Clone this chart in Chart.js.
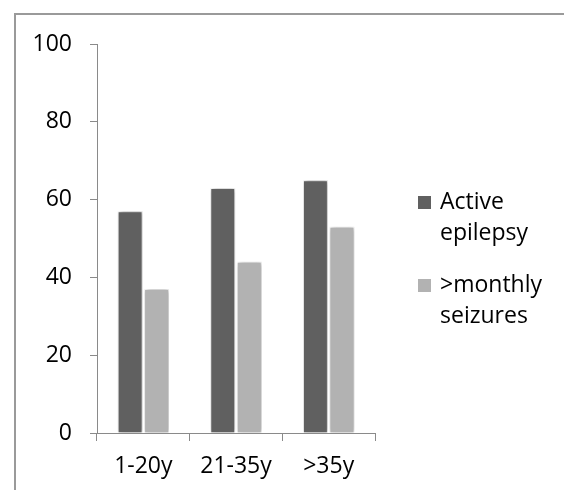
<!DOCTYPE html>
<html>
<head>
<meta charset="utf-8">
<script src="https://cdn.jsdelivr.net/npm/chart.js@4.4.1/dist/chart.umd.min.js"></script>
<style>
    html, body { margin: 0; padding: 0; background: #fff; }
    #wrap { position: relative; width: 564px; height: 490px; overflow: hidden; }
    #frame { position: absolute; left: 14px; top: 13px; width: 700px; height: 600px;
             border-left: 2px solid #9a9a9a; border-top: 2px solid #9a9a9a; }
    #myChart { position: absolute; left: 0; top: 0; }
    .legend { position: absolute; left: 418px; font-family: "Open Sans", sans-serif;
              font-size: 23px; line-height: 31px; color: #000; }
    .legend .box { position: absolute; left: 0; width: 13px; height: 13px; }
    .legend .txt { position: absolute; left: 22px; white-space: nowrap; }
</style>
</head>
<body>
<div id="wrap">
    <div id="frame"></div>
    <canvas id="myChart" width="564" height="490"></canvas>
    <div class="legend" id="legend"></div>
</div>
<script>
const labels = ['1-20y', '21-35y', '>35y'];
const activeEpilepsy = [57, 63, 65];
const monthlySeizures = [37, 44, 53];
const seriesNames = [['Active', 'epilepsy'], ['>monthly', 'seizures']];
const yTicks = [0, 20, 40, 60, 80, 100];

const COLORS = {
    dark: '#606060',
    light: '#b2b2b2',
    axis: '#8a8a8a'
};

const FONT = { family: '"Open Sans", sans-serif', size: 23 };

// soft glow behind the bars, like the office chart
const barShadow = {
    id: 'barShadow',
    beforeDatasetsDraw(chart) {
        const ctx = chart.ctx;
        ctx.save();
        ctx.shadowColor = 'rgba(0,0,0,0.4)';
        ctx.shadowBlur = 5;
        ctx.shadowOffsetX = 1;
        ctx.shadowOffsetY = 0;
    },
    afterDatasetsDraw(chart) {
        chart.ctx.restore();
    }
};

const data = {
    labels: labels,
    datasets: [
        {
            label: seriesNames[0].join(' '),
            data: activeEpilepsy,
            backgroundColor: COLORS.dark,
            borderColor: '#ffffff',
            borderWidth: 1,
            categoryPercentage: 0.572,
            barPercentage: 0.94,
        },
        {
            label: seriesNames[1].join(' '),
            data: monthlySeizures,
            backgroundColor: COLORS.light,
            borderColor: '#ffffff',
            borderWidth: 1,
            categoryPercentage: 0.572,
            barPercentage: 0.94,
        }
    ]
};

const config = {
    type: 'bar',
    data: data,
    options: {
        responsive: false,
        animation: false,
        layout: {
            padding: { top: 44, right: 189, bottom: 0, left: 0 }
        },
        plugins: {
            legend: { display: false },
            tooltip: { enabled: false }
        },
        scales: {
            x: {
                afterFit(scale) { scale.height = 57; },
                grid: {
                    offset: true,
                    drawOnChartArea: false,
                    drawTicks: true,
                    tickLength: 8,
                    color: COLORS.axis,
                },
                border: { color: COLORS.axis, width: 1 },
                ticks: { color: '#000', font: FONT, padding: 12, maxRotation: 0 }
            },
            y: {
                min: 0,
                max: 100,
                afterFit(scale) { scale.width = 97; },
                afterBuildTicks(scale) { scale.ticks = yTicks.map(v => ({ value: v })); },
                grid: {
                    drawOnChartArea: false,
                    drawTicks: true,
                    tickLength: 7,
                    color: COLORS.axis,
                },
                border: { color: COLORS.axis, width: 1 },
                ticks: { color: '#000', font: FONT, padding: 18 }
            }
        }
    },
    plugins: [barShadow]
};

const myChart = new Chart(document.getElementById('myChart'), config);

// legend with two-line entries, built from the datasets
const legendEl = document.getElementById('legend');
const legendTops = [185, 268];
data.datasets.forEach((ds, i) => {
    const item = document.createElement('div');
    item.style.position = 'absolute';
    item.style.top = legendTops[i] + 'px';
    item.style.left = '0px';
    const box = document.createElement('div');
    box.className = 'box';
    box.style.background = ds.backgroundColor;
    box.style.top = '11px';
    const txt = document.createElement('div');
    txt.className = 'txt';
    txt.innerHTML = seriesNames[i].map(s => s.replace('>', '&gt;')).join('<br>');
    item.appendChild(box);
    item.appendChild(txt);
    legendEl.appendChild(item);
});
</script>
</body>
</html>
